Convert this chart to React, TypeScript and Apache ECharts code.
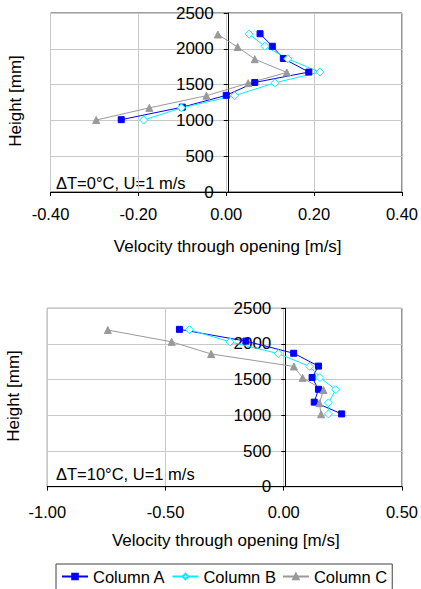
import React, { useEffect, useRef } from "react";
import * as echarts from "echarts";

// Top chart (ΔT=0°C)
const topA_vel = [0.077, 0.105, 0.13, 0.188, 0.065, 0.0, -0.1, -0.239];
const topA_h = [2210, 2035, 1865, 1675, 1530, 1350, 1185, 1010];
const topB_vel = [0.052, 0.088, 0.14, 0.213, 0.111, 0.019, -0.102, -0.188];
const topB_h = [2205, 2035, 1860, 1675, 1525, 1345, 1175, 1005];
const topC_vel = [-0.019, 0.026, 0.065, 0.138, 0.05, -0.045, -0.175, -0.296];
const topC_h = [2200, 2025, 1855, 1670, 1520, 1345, 1175, 1005];

// Bottom chart (ΔT=10°C)
const botA_vel = [-0.441, -0.16, 0.042, 0.147, 0.12, 0.147, 0.129, 0.245];
const botA_h = [2205, 2040, 1870, 1690, 1530, 1365, 1185, 1020];
const botB_vel = [-0.399, -0.227, -0.023, 0.11, 0.153, 0.22, 0.189, 0.189];
const botB_h = [2200, 2030, 1865, 1685, 1530, 1360, 1175, 1020];
const botC_vel = [-0.744, -0.474, -0.307, 0.043, 0.08, 0.168, 0.151, 0.158];
const botC_h = [2195, 2030, 1860, 1685, 1525, 1355, 1170, 1015];

const seriesNames = ["Column A", "Column B", "Column C"];
const yTitle = "Height [mm]";
const xTitle = "Velocity through opening [m/s]";
const topNote = "ΔT=0°C, U=1 m/s";
const botNote = "ΔT=10°C, U=1 m/s";

const FONT = "Liberation Sans, Arial, sans-serif";

const zip = (xs: number[], ys: number[]) => xs.map((x, i) => [x, ys[i]]);

const styles = [
  { symbol: "rect", symbolSize: 6, color: "#0000ff", fill: "#0000ff" },
  { symbol: "diamond", symbolSize: 8, color: "#00f0ff", fill: "#ffffff" },
  { symbol: "triangle", symbolSize: 7, color: "#999999", fill: "#999999" },
];

const G1 = { left: 50.5, top: 13, width: 354.5, height: 179 };
const G2 = { left: 47.3, top: 308.3, width: 357, height: 178.4 };
const X1 = { min: -0.4, max: 0.4, interval: 0.2 };
const X2 = { min: -1, max: 0.5, interval: 0.5 };

export default function App() {
  const ref = useRef<HTMLDivElement>(null);
  useEffect(() => {
    if (!ref.current) return;
    const chart = echarts.init(ref.current, null, { renderer: "svg" });

    const mkX = (gridIndex: number, r: any, margin: number) => ({
      type: "value",
      gridIndex,
      min: r.min,
      max: r.max,
      interval: r.interval,
      axisLine: { onZero: false, lineStyle: { color: "#000", width: 1 } },
      axisTick: { show: true, length: 4, inside: false, lineStyle: { color: "#000" } },
      axisLabel: {
        margin,
        fontSize: 16.5,
        color: "#000",
        fontFamily: FONT,
        formatter: (v: number) => v.toFixed(2),
      },
      splitLine: { show: true, lineStyle: { color: "#c8c8c8", width: 1 } },
    });
    // y axis sits on x = 0: offset inward from the grid's left edge
    const mkY = (gridIndex: number, g: any, r: any) => ({
      type: "value",
      gridIndex,
      min: 0,
      max: 2500,
      interval: 500,
      position: "left",
      offset: -(g.width * (0 - r.min)) / (r.max - r.min),
      axisLine: { show: true, onZero: false, lineStyle: { color: "#000", width: 1 } },
      axisTick: { show: true, length: 4, inside: false, lineStyle: { color: "#000" } },
      axisLabel: {
        margin: 14,
        fontSize: 17,
        color: "#000",
        fontFamily: FONT,
        formatter: (v: number) => String(v),
      },
      splitLine: { show: true, lineStyle: { color: "#c8c8c8", width: 1 } },
    });

    const mkSeries = (idx: number, xi: number, data: number[][]) => ({
      type: "line",
      name: seriesNames[idx],
      xAxisIndex: xi,
      yAxisIndex: xi,
      data,
      symbol: styles[idx].symbol,
      symbolSize: styles[idx].symbolSize,
      showAllSymbol: true,
      lineStyle: { color: styles[idx].color, width: 1 },
      itemStyle: { color: styles[idx].fill, borderColor: styles[idx].color, borderWidth: 1 },
      emphasis: { disabled: true },
    });

    const txt = (x: number, y: number, text: string, size: number, opts: any = {}) => ({
      type: "text",
      x,
      y,
      ...opts,
      style: {
        text,
        fontSize: size,
        fontFamily: FONT,
        fill: "#000",
        ...(opts.style || {}),
      },
    });

    chart.setOption({
      animation: false,
      grid: [
        { ...G1, show: true, borderColor: "#404040", borderWidth: 1, backgroundColor: "transparent" },
        { ...G2, show: true, borderColor: "#404040", borderWidth: 1, backgroundColor: "transparent" },
      ],
      xAxis: [mkX(0, X1, 13), mkX(1, X2, 17)],
      yAxis: [mkY(0, G1, X1), mkY(1, G2, X2)],
      legend: {
        left: 56,
        top: 564,
        data: seriesNames,
        itemWidth: 26,
        itemHeight: 7,
        itemGap: 6,
        padding: [4, 5, 12, 5],
        borderColor: "#404040",
        borderWidth: 1,
        textStyle: { fontSize: 16.5, color: "#000", fontFamily: FONT },
      },
      series: [
        mkSeries(0, 0, zip(topA_vel, topA_h)),
        mkSeries(1, 0, zip(topB_vel, topB_h)),
        mkSeries(2, 0, zip(topC_vel, topC_h)),
        mkSeries(0, 1, zip(botA_vel, botA_h)),
        mkSeries(1, 1, zip(botB_vel, botB_h)),
        mkSeries(2, 1, zip(botC_vel, botC_h)),
      ],
      graphic: [
        txt(15, 101, yTitle, 17, { rotation: Math.PI / 2, style: { textAlign: "center", textVerticalAlign: "middle" } }),
        txt(13, 396, yTitle, 17, { rotation: Math.PI / 2, style: { textAlign: "center", textVerticalAlign: "middle" } }),
        txt(227.7, 246, xTitle, 17, { style: { textAlign: "center", textVerticalAlign: "middle" } }),
        txt(225.8, 540, xTitle, 17, { style: { textAlign: "center", textVerticalAlign: "middle" } }),
        txt(56, 182.5, topNote, 16.5, { style: { textAlign: "left", textVerticalAlign: "middle" } }),
        txt(56, 474, botNote, 16.5, { style: { textAlign: "left", textVerticalAlign: "middle" } }),
      ],
    });
    return () => chart.dispose();
  }, []);
  return (
    <div
      ref={ref}
      style={{ position: "absolute", left: 0, top: 0, width: 421, height: 589, background: "#fff" }}
    />
  );
}
